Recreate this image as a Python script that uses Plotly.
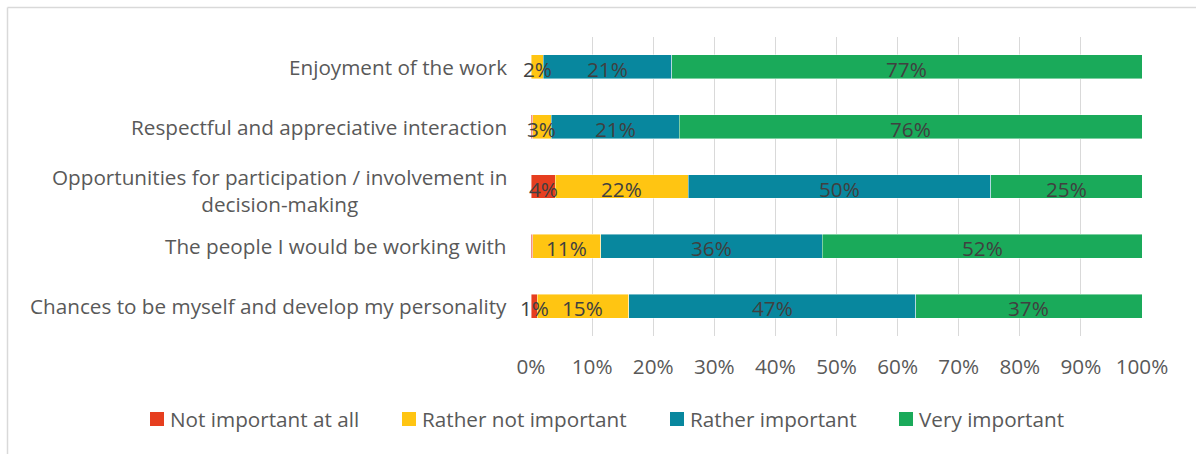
import plotly.graph_objects as go

# Survey items (top to bottom) and the share of answers per rating
categories = [
    "Enjoyment of the work",
    "Respectful and appreciative interaction",
    "Opportunities for participation / involvement in<br>decision-making",
    "The people I would be working with",
    "Chances to be myself and develop my personality",
]
series_names = ["Not important at all", "Rather not important", "Rather important", "Very important"]
not_important_at_all = [0, 0.3, 4, 0.3, 1]
rather_not_important = [2, 3, 22, 11, 15]
rather_important = [21, 21, 50, 36, 47]
very_important = [77, 76, 25, 52, 37]
x_ticks = [0, 10, 20, 30, 40, 50, 60, 70, 80, 90, 100]

colors = ["#E63E1F", "#FFC512", "#08879E", "#1AAA5A"]
series_values = [not_important_at_all, rather_not_important, rather_important, very_important]

W, H = 1196, 454
ML, MR, MT, MB = 531, 54, 37, 118
FONT = "Open Sans"
FS = 20.7
TEXT_GREY = "#595959"

# Each row is scaled to 100% so the bars fill the full width
row_totals = [sum(col) for col in zip(*series_values)]
shares = [[v / t * 100 for v, t in zip(vals, row_totals)] for vals in series_values]

fig = go.Figure()
for name, vals, col in zip(series_names, shares, colors):
    fig.add_trace(go.Bar(
        y=categories,
        x=vals,
        name=name,
        orientation="h",
        marker=dict(color=col, line=dict(color="rgba(255,255,255,0.55)", width=0.8)),
        hoverinfo="skip",
        showlegend=False,
    ))

annotations = []

# Value labels centred on each segment; they may spill past narrow segments
base = [0.0] * len(categories)
for raw, vals in zip(series_values, shares):
    for i, (r, v) in enumerate(zip(raw, vals)):
        if r >= 1:
            annotations.append(dict(
                xref="x", yref="y", x=base[i] + v / 2, y=categories[i],
                xanchor="center", yanchor="middle", yshift=-2,
                text=f"{r:.0f}%", showarrow=False,
                font=dict(family=FONT, size=FS, color="#404040"),
            ))
        base[i] += v

pw = W - ML - MR
ph = H - MT - MB
def px_to_paper_x(px):
    return (px - ML) / pw
def px_to_paper_y(py):
    return 1 - (py - MT) / ph

# Category labels: right-edged block, lines centred on each other
for cat in categories:
    annotations.append(dict(
        xref="paper", yref="y", x=0, y=cat,
        xanchor="right", yanchor="middle", align="center",
        xshift=-22, yshift=-4 if "<br>" in cat else 0,
        text=cat, showarrow=False,
        font=dict(family=FONT, size=FS, color=TEXT_GREY),
    ))

# Legend row: colour swatch followed by the series name
legend_left = [150, 402, 670, 899]
legend_y = 419
swatch = 14
shapes = []
for name, col, lx in zip(series_names, colors, legend_left):
    shapes.append(dict(
        type="rect", xref="paper", yref="paper",
        x0=px_to_paper_x(lx), x1=px_to_paper_x(lx + swatch),
        y0=px_to_paper_y(legend_y + swatch / 2), y1=px_to_paper_y(legend_y - swatch / 2),
        line=dict(width=0), fillcolor=col,
    ))
    annotations.append(dict(
        xref="paper", yref="paper",
        x=px_to_paper_x(lx + swatch + 4), y=px_to_paper_y(legend_y),
        xanchor="left", yanchor="middle", showarrow=False,
        text=name, font=dict(family=FONT, size=FS, color=TEXT_GREY),
    ))

# Light frame around the chart area
frame_color = "#D9D9D9"
shapes += [
    dict(type="line", xref="paper", yref="paper",
         x0=px_to_paper_x(7.5), x1=px_to_paper_x(W + 5),
         y0=px_to_paper_y(7.5), y1=px_to_paper_y(7.5),
         line=dict(color=frame_color, width=1.5)),
    dict(type="line", xref="paper", yref="paper",
         x0=px_to_paper_x(7.5), x1=px_to_paper_x(7.5),
         y0=px_to_paper_y(7.5), y1=px_to_paper_y(H + 5),
         line=dict(color=frame_color, width=1.5)),
]

fig.update_layout(
    width=W, height=H,
    margin=dict(l=ML, r=MR, t=MT, b=MB),
    barmode="stack",
    bargap=0.6,
    plot_bgcolor="white",
    paper_bgcolor="white",
    font=dict(family=FONT, size=FS, color=TEXT_GREY),
    annotations=annotations,
    shapes=shapes,
    showlegend=False,
    xaxis=dict(
        range=[0, 100],
        tickvals=x_ticks,
        ticktext=[f"{t}%" for t in x_ticks],
        showgrid=True, gridcolor="#D9D9D9", gridwidth=1.3,
        zeroline=False, showline=False,
        ticks="", ticklabelstandoff=16,
        tickfont=dict(family=FONT, size=FS, color=TEXT_GREY),
        fixedrange=True,
    ),
    yaxis=dict(
        autorange="reversed",
        showticklabels=False,
        showgrid=False, zeroline=False, showline=False,
        fixedrange=True,
    ),
)

fig.write_html("out.html", config={"displayModeBar": False})
